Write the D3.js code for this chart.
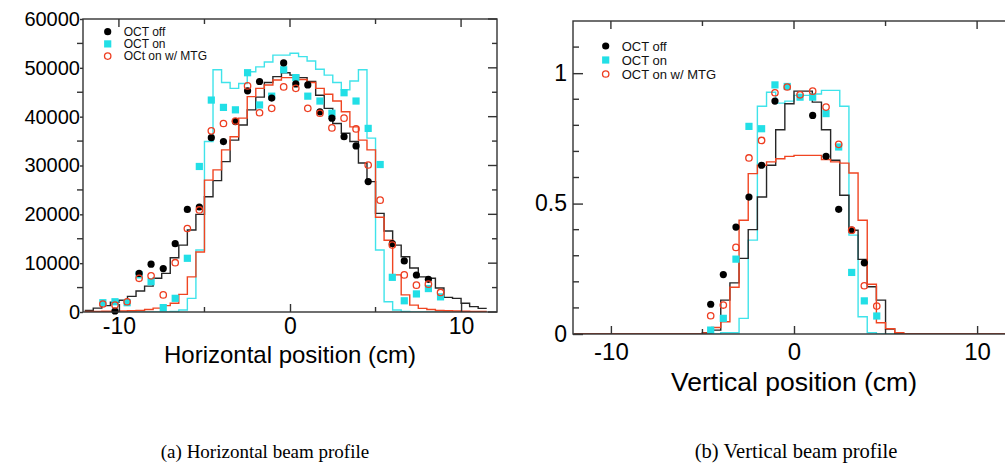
<!DOCTYPE html>
<html><head><meta charset="utf-8">
<script src="https://cdn.jsdelivr.net/npm/d3@7"></script>
<style>body{margin:0;background:#fff}svg{display:block}</style>
</head><body>
<svg id="c" width="1005" height="466"></svg>
<script>
// ---------- DATA ----------
const seriesNames = ["OCT off", "OCT on", "OCt on w/ MTG"];
const seriesNamesV = ["OCT off", "OCT on", "OCT on w/ MTG"];

// Horizontal profile: histogram bins (0.5 cm wide, start positions)
const hBinStart = d3.range(-12, 11.5, 0.5);
const hHistOff = [300,800,1300,2000,2400,3200,4300,5300,6900,7900,11100,13700,16800,20000,23600,26900,30800,35200,38300,41400,44000,47000,48200,49000,48500,48000,47200,44400,41700,38600,36600,34900,30500,26700,20200,16600,13700,11300,9000,7200,6900,4900,3000,2800,1800,1100,750];
const hHistOn = [0,0,0,0,0,0,0,0,0,0,100,400,2800,12700,34900,49600,47000,45800,46800,49200,50200,51200,52600,52600,53000,52300,51400,49700,48500,47000,45500,47300,49600,35600,12700,2100,400,100,0,0,0,0,0,0,0,0,0];
const hHistMtg = [100,100,150,150,200,250,300,500,800,1300,1800,3600,7200,12300,27000,29100,33200,35900,39700,44100,45800,46500,47500,48000,48000,47600,47000,45800,44600,43200,41000,37900,35200,33200,19400,14700,7600,3500,1400,750,500,300,250,200,150,100,100];

// Horizontal profile: measured points
const hPos = [-10.94,-10.23,-9.52,-8.82,-8.12,-7.41,-6.71,-6.00,-5.30,-4.60,-3.89,-3.19,-2.48,-1.78,-1.07,-0.37,0.34,1.04,1.75,2.45,3.16,3.86,4.57,5.27,5.98,6.68,7.39,8.09,8.80];
const hPtsOff = [null,200,null,7900,9800,8900,14000,21000,21500,35700,34900,39000,45300,47200,43800,51000,46700,46500,41000,39700,35900,34000,26700,null,14000,10450,7580,6700,null];
const hPtsOn = [1900,2100,1900,7600,6200,900,2800,11000,29800,43400,41900,41400,49000,42400,44200,49600,48000,44200,43200,40700,44900,43200,37600,30200,7100,2300,3700,4800,3100];
const hPtsMtg = [1640,1430,2100,6900,7400,3500,10100,17100,20900,37100,38600,39100,46300,40800,41700,46100,45800,41700,40700,37700,39700,37500,30100,22900,13700,7600,5500,5700,4000];

// Vertical profile: histogram bins (0.5 cm wide)
const vBinStart = d3.range(-12, 12, 0.5);
const vHistOff = [0,0,0,0,0,0,0,0,0,0,0,0,0,0,0.005,0.015,0.13,0.196,0.29,0.40,0.525,0.647,0.783,0.883,0.931,0.931,0.889,0.783,0.666,0.532,0.398,0.286,0.181,0.13,0.019,0,0,0,0,0,0,0,0,0,0,0,0,0];
const vHistOn = [0,0,0,0,0,0,0,0,0,0,0,0,0,0,0,0,0.005,0.005,0.06,0.36,0.873,0.927,0.885,0.893,0.915,0.915,0.92,0.934,0.934,0.873,0.379,0.066,0.005,0,0,0,0,0,0,0,0,0,0,0,0,0,0,0];
const vHistMtg = [0,0,0,0,0,0,0,0,0,0,0,0,0,0,0.004,0.025,0.047,0.179,0.436,0.615,0.647,0.66,0.672,0.681,0.685,0.685,0.685,0.669,0.66,0.655,0.617,0.436,0.191,0.043,0.02,0.005,0,0,0,0,0,0,0,0,0,0,0,0];

// Vertical profile: measured points
const vPos = [-4.55,-3.86,-3.17,-2.46,-1.77,-1.04,-0.37,0.33,1.02,1.75,2.44,3.15,3.84,4.52];
const vPtsOff = [0.114,0.228,0.41,0.525,0.647,0.893,null,null,0.838,0.681,0.478,0.398,0.273,null];
const vPtsOn = [0.015,0.06,0.287,0.796,0.787,0.955,0.949,0.908,0.908,0.845,0.717,0.236,0.127,0.069];
const vPtsMtg = [0.070,0.111,0.332,0.675,0.742,0.925,0.947,0.917,0.931,0.87,0.727,0.398,0.185,0.107];

const hXTicks = [-10, 0, 10], hXMinor = [-5, 5];
const hYTicks = [0, 10000, 20000, 30000, 40000, 50000, 60000];
const hYMinor = [5000, 15000, 25000, 35000, 45000, 55000];
const vXTicks = [-10, 0, 10], vXMinor = [-5, 5];
const vYTicks = [0, 0.5, 1];
const vYMinor = [0.1, 0.2, 0.3, 0.4, 0.6, 0.7, 0.8, 0.9, 1.1];

// ---------- STYLE ----------
const C_OFF = "#000000", C_ON = "#22dfe6", C_MTG = "#ee3d20";
const L_OFF = "#262626", L_ON = "#3fe3ea", L_MTG = "#f04522";
const FONT = "'Liberation Sans', Arial, Helvetica, sans-serif";
const AXC = "#333";
const fmt = d => String(d);

const svg = d3.select("#c");

function panel(o) {
  const g = svg.append("g");
  const x = o.x, y = o.y;
  const [x0, x1] = x.range(), [y0, y1] = y.range(); // y0 bottom, y1 top
  const clipId = "clip" + o.id;
  g.append("clipPath").attr("id", clipId).append("rect")
    .attr("x", x0).attr("y", y1).attr("width", x1 - x0).attr("height", y0 - y1);

  // histograms
  const line = d3.line().curve(d3.curveStepAfter).x(d => x(d[0])).y(d => y(d[1]));
  const hists = [[o.hOn, L_ON], [o.hOff, L_OFF], [o.hMtg, L_MTG]];
  hists.forEach(([vals, col]) => {
    const pts = o.bins.map((b, i) => [b, vals[i]]);
    pts.push([o.bins[o.bins.length - 1] + 0.5, vals[vals.length - 1]]);
    g.append("path").attr("d", line(pts)).attr("fill", "none")
      .attr("stroke", col).attr("stroke-width", 1.4).attr("clip-path", `url(#${clipId})`);
  });

  // points
  const pOn = o.pos.map((p, i) => [p, o.pOn[i]]).filter(d => d[1] != null);
  const pOff = o.pos.map((p, i) => [p, o.pOff[i]]).filter(d => d[1] != null);
  const pMtg = o.pos.map((p, i) => [p, o.pMtg[i]]).filter(d => d[1] != null);
  g.selectAll(null).data(pOn).join("rect")
    .attr("x", d => x(d[0]) - 3.6).attr("y", d => y(d[1]) - 3.6)
    .attr("width", 7.2).attr("height", 7.2).attr("fill", C_ON);
  g.selectAll(null).data(pOff).join("circle")
    .attr("cx", d => x(d[0])).attr("cy", d => y(d[1])).attr("r", 3.6).attr("fill", C_OFF);
  g.selectAll(null).data(pMtg).join("circle")
    .attr("cx", d => x(d[0])).attr("cy", d => y(d[1])).attr("r", 3.2)
    .attr("fill", "none").attr("stroke", C_MTG).attr("stroke-width", 1.3);

  // frame
  g.append("rect").attr("x", x0).attr("y", y1).attr("width", x1 - x0).attr("height", y0 - y1)
    .attr("fill", "none").attr("stroke", AXC).attr("stroke-width", 1.4);

  // bottom axis (inward ticks)
  const bx = g.append("g").attr("transform", `translate(0,${y0})`)
    .call(d3.axisBottom(x).tickValues(o.xTicks).tickSizeInner(-8).tickSizeOuter(0)
      .tickPadding(o.xPad).tickFormat(fmt));
  bx.selectAll("text").attr("font-size", o.fs).attr("font-family", FONT).attr("fill", "#000");
  bx.select(".domain").remove();
  bx.selectAll("line").attr("stroke", AXC).attr("stroke-width", 1.4);
  g.selectAll(null).data(o.xMinor).join("line")
    .attr("x1", d => x(d)).attr("x2", d => x(d)).attr("y1", y0).attr("y2", y0 - 5)
    .attr("stroke", AXC).attr("stroke-width", 1.4);
  // top ticks
  g.selectAll(null).data(o.xTicks).join("line")
    .attr("x1", d => x(d)).attr("x2", d => x(d)).attr("y1", y1).attr("y2", y1 + 8)
    .attr("stroke", AXC).attr("stroke-width", 1.4);
  g.selectAll(null).data(o.xMinor).join("line")
    .attr("x1", d => x(d)).attr("x2", d => x(d)).attr("y1", y1).attr("y2", y1 + 5)
    .attr("stroke", AXC).attr("stroke-width", 1.4);

  // left axis
  const ly = g.append("g").attr("transform", `translate(${x0},0)`)
    .call(d3.axisLeft(y).tickValues(o.yTicks).tickSizeInner(o.yTickIn).tickSizeOuter(0)
      .tickPadding(o.yPad).tickFormat(fmt));
  ly.selectAll("text").attr("font-size", o.yfs).attr("font-family", FONT).attr("fill", "#000");
  ly.select(".domain").remove();
  ly.selectAll("line").attr("stroke", AXC).attr("stroke-width", 1.4);
  g.selectAll(null).data(o.yMinor).join("line")
    .attr("x1", x0).attr("x2", x0 + o.yMinorLen).attr("y1", d => y(d)).attr("y2", d => y(d))
    .attr("stroke", AXC).attr("stroke-width", 1.4);
  // right ticks
  g.selectAll(null).data(o.yTicks).join("line")
    .attr("x1", x1).attr("x2", x1 - 9).attr("y1", d => y(d)).attr("y2", d => y(d))
    .attr("stroke", AXC).attr("stroke-width", 1.4);
  g.selectAll(null).data(o.yMinor).join("line")
    .attr("x1", x1).attr("x2", x1 - 5).attr("y1", d => y(d)).attr("y2", d => y(d))
    .attr("stroke", AXC).attr("stroke-width", 1.4);

  // axis title
  g.append("text").attr("x", x(0)).attr("y", o.titleY).attr("text-anchor", "middle")
    .attr("font-family", FONT).attr("font-size", o.titleFs).text(o.title);

  // legend
  const lg = g.append("g").attr("font-family", FONT).attr("font-size", o.legFs).attr("fill", "#111");
  o.legNames.forEach((nm, i) => {
    const cy = o.legY + i * o.legDy;
    if (i === 0) lg.append("circle").attr("cx", o.legX).attr("cy", cy).attr("r", 3.6).attr("fill", C_OFF);
    if (i === 1) lg.append("rect").attr("x", o.legX - 3.6).attr("y", cy - 3.6).attr("width", 7.2).attr("height", 7.2).attr("fill", C_ON);
    if (i === 2) lg.append("circle").attr("cx", o.legX).attr("cy", cy).attr("r", 3.2).attr("fill", "none").attr("stroke", C_MTG).attr("stroke-width", 1.3);
    lg.append("text").attr("x", o.legX + 16).attr("y", cy).attr("dy", "0.36em").text(nm);
  });

  // caption
  svg.append("text").attr("x", o.capX).attr("y", 458).attr("text-anchor", "middle")
    .attr("font-family", "'Liberation Serif', 'Times New Roman', serif").attr("font-size", o.capFs)
    .text(o.caption);
}

panel({
  id: "h",
  x: d3.scaleLinear().domain([-12.1, 12.1]).range([83, 497]),
  y: d3.scaleLinear().domain([0, 60000]).range([312, 19]),
  bins: hBinStart, hOff: hHistOff, hOn: hHistOn, hMtg: hHistMtg,
  pos: hPos, pOff: hPtsOff, pOn: hPtsOn, pMtg: hPtsMtg,
  xTicks: hXTicks, xMinor: hXMinor, yTicks: hYTicks, yMinor: hYMinor,
  yTickIn: 3, yMinorLen: -6, yPad: 0, xPad: 6,
  fs: 23, yfs: 20, title: "Horizontal position (cm)", titleY: 363, titleFs: 24,
  legNames: seriesNames, legX: 107.7, legY: 31.7, legDy: 12.2, legFs: 12,
  caption: "(a) Horizontal beam profile", capX: 265, capFs: 19
});

panel({
  id: "v",
  x: d3.scaleLinear().domain([-12.07, 12.07]).range([573, 1015]),
  y: d3.scaleLinear().domain([0, 1.2]).range([334, 21]),
  bins: vBinStart, hOff: vHistOff, hOn: vHistOn, hMtg: vHistMtg,
  pos: vPos, pOff: vPtsOff, pOn: vPtsOn, pMtg: vPtsMtg,
  xTicks: vXTicks, xMinor: vXMinor, yTicks: vYTicks, yMinor: vYMinor,
  yTickIn: -10, yMinorLen: 6, yPad: 6, xPad: 9,
  fs: 24, yfs: 23, title: "Vertical position (cm)", titleY: 391, titleFs: 26.5,
  legNames: seriesNamesV, legX: 605.7, legY: 46, legDy: 14, legFs: 13,
  caption: "(b) Vertical beam profile", capX: 796, capFs: 20.6
});
</script>
</body></html>
